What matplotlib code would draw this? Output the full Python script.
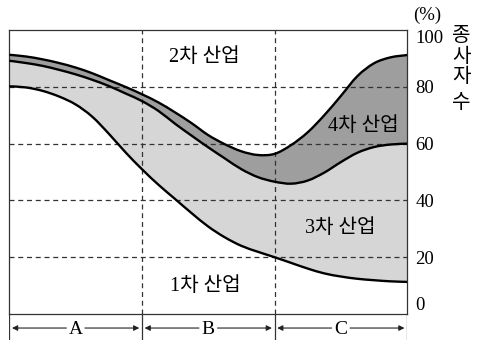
import matplotlib.pyplot as plt
from matplotlib.path import Path
from matplotlib.patches import PathPatch

# x positions across the three stages (A: 0-1, B: 1-2, C: 2-3)
x = [0, 0.125, 0.25, 0.375, 0.5, 0.625, 0.75, 0.875, 1.0, 1.125, 1.25, 1.375,
     1.5, 1.625, 1.75, 1.875, 2.0, 2.125, 2.25, 2.375, 2.5, 2.625, 2.75, 2.875, 3.0]

# cumulative shares (%)
primary = [80.2, 79.8, 78.6, 76.6, 73.8, 69.5, 63.5, 57.0, 51.0, 45.5, 40.5, 35.5,
           30.8, 27.0, 24.0, 21.9, 20.0, 18.0, 16.0, 14.3, 13.2, 12.4, 11.9, 11.5, 11.3]
tertiary = [89.2, 88.4, 87.4, 86.0, 84.4, 82.5, 80.3, 77.7, 75.0, 71.5, 67.0, 62.8,
            58.7, 54.8, 51.0, 48.2, 46.6, 45.9, 47.0, 49.8, 53.5, 56.8, 58.8, 59.7, 60.0]
quaternary = [91.3, 90.7, 89.7, 88.4, 86.8, 84.8, 82.4, 80.0, 77.4, 74.5, 71.0, 67.2,
              63.0, 59.8, 57.3, 56.0, 56.4, 59.5, 64.0, 70.0, 76.8, 83.8, 88.3, 90.4, 91.2]

y_ticks = [0, 20, 40, 60, 80, 100]
stages = ['A', 'B', 'C']
labels = {'2차 산업': (1.473, 90.4), '1차 산업': (1.476, 9.6),
          '3차 산업': (2.494, 30.2), '4차 산업': (2.67, 65.9)}

serif = ['Liberation Serif', 'Noto Sans CJK KR']


def smooth(xs, ys):
    # catmull-rom through the read points, as cubic bezier pieces
    pts = list(zip(xs, ys))
    n = len(pts)
    verts = [pts[0]]
    for i in range(n - 1):
        p0 = pts[max(i - 1, 0)]
        p1 = pts[i]
        p2 = pts[i + 1]
        p3 = pts[min(i + 2, n - 1)]
        c1 = (p1[0] + (p2[0] - p0[0]) / 6, p1[1] + (p2[1] - p0[1]) / 6)
        c2 = (p2[0] - (p3[0] - p1[0]) / 6, p2[1] - (p3[1] - p1[1]) / 6)
        verts += [c1, c2, p2]
    return verts


def band(ax, lower, upper, color):
    up = smooth(x, upper)
    lo = smooth(x, lower)[::-1]
    verts = up + [lo[0]] + lo[1:] + [up[0]]
    codes = ([Path.MOVETO] + [Path.CURVE4] * (len(up) - 1) + [Path.LINETO]
             + [Path.CURVE4] * (len(lo) - 1) + [Path.CLOSEPOLY])
    ax.add_patch(PathPatch(Path(verts, codes), facecolor=color, lw=0, zorder=1))


def curve(ax, ys):
    v = smooth(x, ys)
    codes = [Path.MOVETO] + [Path.CURVE4] * (len(v) - 1)
    ax.add_patch(PathPatch(Path(v, codes), facecolor='none', edgecolor='black',
                           lw=1.7, zorder=3))


fig = plt.figure(figsize=(4.79, 3.40), dpi=100)
ax = fig.add_axes([0.0195, 0.0765, 0.8305, 0.835])

band(ax, primary, tertiary, '#d6d6d6')
band(ax, tertiary, quaternary, '#9e9e9e')

for v in y_ticks[1:-1]:
    ax.axhline(v, color='#333333', lw=0.9, ls=(0, (4, 3)), zorder=2)
for v in [1, 2]:
    ax.axvline(v, color='#333333', lw=0.9, ls=(0, (4, 3)), zorder=2)

for s in [primary, tertiary, quaternary]:
    curve(ax, s)

ax.set_xlim(0, 3)
ax.set_ylim(0, 100)
ax.set_xticks([])
ax.yaxis.tick_right()
ax.set_yticks(y_ticks)
ax.set_yticklabels([str(v) for v in y_ticks], family=serif, fontsize=13.5)
ax.tick_params(axis='y', length=0, pad=6)
tl = ax.get_yticklabels()
tl[0].set_va('bottom')
tl[-1].set_va('top')
for sp in ax.spines.values():
    sp.set_linewidth(0.9)
    sp.set_color('#333333')

for txt, (tx, ty) in labels.items():
    ax.text(tx, ty, txt, family=serif, fontsize=14.5, ha='center', va='center', zorder=4)

# stage strip below the chart
sx = fig.add_axes([0.0195, 0.0, 0.8305, 0.0765])
sx.set_xlim(0, 3)
sx.set_ylim(0, 1)
sx.axis('off')
for v in [0, 1, 2, 3]:
    sx.plot([v, v], [0, 1], color='#333333', lw=0.9)
for i, name in enumerate(stages):
    c = i + 0.5
    sx.text(c, 0.42, name, family=serif, fontsize=14, ha='center', va='center')
    for a, b in [(c - 0.07, i + 0.02), (c + 0.07, i + 0.98)]:
        sx.annotate('', xy=(b, 0.46), xytext=(a, 0.46),
                    arrowprops=dict(arrowstyle='-|>', color='#222222', lw=0.8,
                                    mutation_scale=8, shrinkA=0, shrinkB=0))

fig.text(426.7 / 479, 1 - 15.7 / 340, '(%)', family=serif, fontsize=13.5,
         ha='center', va='center')
fig.text(461.7 / 479, 1 - 56 / 340, '종\n사\n자', family=['Noto Sans CJK KR'],
         fontsize=14.5, linespacing=0.97, ha='center', va='center')
fig.text(461.7 / 479, 1 - 103 / 340, '수', family=['Noto Sans CJK KR'],
         fontsize=14.5, ha='center', va='center')

fig.savefig('out.png', dpi=100)
